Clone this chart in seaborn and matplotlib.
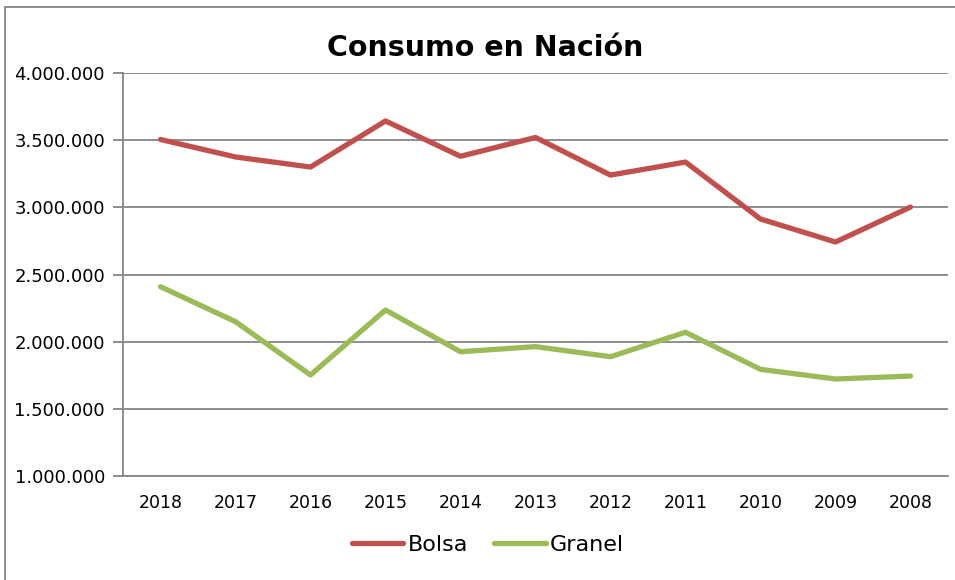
import seaborn as sns
import matplotlib.pyplot as plt
import matplotlib.ticker as mticker
import pandas as pd
from matplotlib.lines import Line2D

# Datos
anios = ["2018", "2017", "2016", "2015", "2014", "2013", "2012", "2011", "2010", "2009", "2008"]
bolsa = [3505000, 3375000, 3300000, 3643000, 3380000, 3520000, 3240000, 3337000, 2913000, 2742000, 3002000]
granel = [2409000, 2149000, 1752000, 2236000, 1925000, 1963000, 1888000, 2070000, 1794000, 1722000, 1744000]
series = ["Bolsa", "Granel"]
colores = ["#C0504D", "#9BBB59"]
y_ticks = [1000000, 1500000, 2000000, 2500000, 3000000, 3500000, 4000000]

df = pd.DataFrame({"Año": anios * 2,
                   "Valor": bolsa + granel,
                   "Serie": [series[0]] * len(anios) + [series[1]] * len(anios)})

sns.set_style("white")
plt.rcParams['font.family'] = ['DejaVu Sans']

fig = plt.figure(figsize=(9.55, 5.8), dpi=100)
ax = fig.add_axes([123 / 955, 1 - 476 / 580, (948 - 123) / 955, (476 - 73) / 580])

sns.lineplot(data=df, x="Año", y="Valor", hue="Serie", palette=colores,
             linewidth=3.8, ax=ax, legend=False, sort=False)

gris = "#868686"
ax.set_xlim(-0.5, len(anios) - 0.5)
ax.set_ylim(y_ticks[0], y_ticks[-1])
ax.set_yticks(y_ticks)
ax.yaxis.set_major_formatter(mticker.FuncFormatter(lambda v, p: f"{int(v):,}".replace(",", ".")))
ax.grid(axis="y", color=gris, linewidth=1.3)
ax.set_axisbelow(True)
ax.set_xlabel("")
ax.set_ylabel("")

ax.xaxis.set_minor_locator(mticker.FixedLocator([i - 0.5 for i in range(len(anios) + 1)]))
ax.tick_params(axis="x", which="major", length=0, pad=13, labelsize=12.5, labelcolor="black")
ax.tick_params(axis="x", which="minor", length=6, width=1.3, color=gris, direction="out")
ax.tick_params(axis="y", length=7, width=1.3, color=gris, direction="out", left=True,
               labelsize=13, labelcolor="black", pad=6)

for s in ["top", "right"]:
    ax.spines[s].set_visible(False)
for s in ["left", "bottom"]:
    ax.spines[s].set_color(gris)
    ax.spines[s].set_linewidth(1.3)

fig.text(485 / 955, 1 - 48 / 580, "Consumo en Nación", ha="center", va="center",
         fontsize=20.5, fontweight="bold", color="black")

handles = [Line2D([0], [0], color=c, linewidth=3.8, solid_capstyle="round") for c in colores]
fig.legend(handles, series, loc="center", bbox_to_anchor=(488 / 955, 1 - 545 / 580),
           ncol=2, frameon=False, fontsize=16, handlelength=2.3, handletextpad=0.2,
           columnspacing=1.2, labelcolor="black")

# borde del area del grafico
fig.add_artist(Line2D([5 / 955, 5 / 955], [0, 1 - 7 / 580], color=gris, linewidth=1.3))
fig.add_artist(Line2D([5 / 955, 1], [1 - 7 / 580, 1 - 7 / 580], color=gris, linewidth=1.3))

fig.savefig("out.png", dpi=100)
